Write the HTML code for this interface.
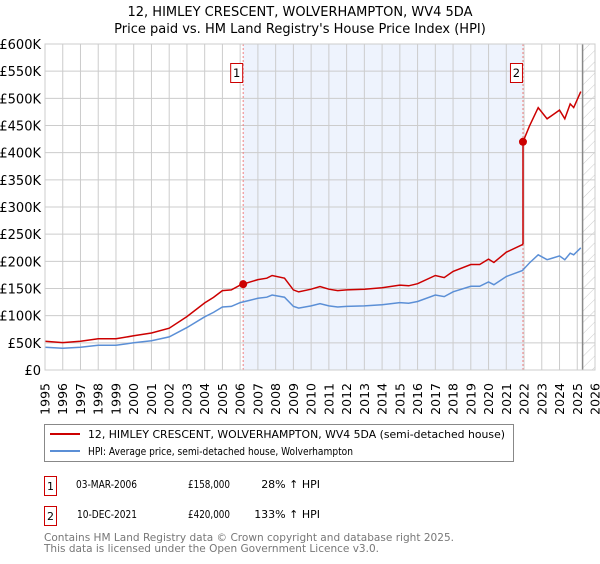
<!DOCTYPE html>
<html><head><meta charset="utf-8"><style>
body{margin:0;background:#fff;font-family:"DejaVu Sans","Liberation Sans",sans-serif;}
svg text{font-family:"DejaVu Sans","Liberation Sans",sans-serif;}
</style></head><body>
<svg id="chart" width="600" height="560" xmlns="http://www.w3.org/2000/svg">
<defs><pattern id="hatch" width="8" height="8" patternUnits="userSpaceOnUse" patternTransform="rotate(45)"><line x1="0" y1="0" x2="0" y2="8" stroke="#ccc" stroke-width="1"/></pattern></defs>
<text x="300" y="16" text-anchor="middle" font-size="13">12, HIMLEY CRESCENT, WOLVERHAMPTON, WV4 5DA</text>
<text x="300" y="33" text-anchor="middle" font-size="13">Price paid vs. HM Land Registry's House Price Index (HPI)</text>
<g id="plot"></g>
<g>
<rect x="44.5" y="424.5" width="469" height="37" fill="#fff" stroke="#888"/>
<line x1="50" y1="434" x2="80" y2="434" stroke="#cc0000" stroke-width="2"/>
<text x="88" y="438" font-size="11" textLength="417" lengthAdjust="spacingAndGlyphs">12, HIMLEY CRESCENT, WOLVERHAMPTON, WV4 5DA (semi-detached house)</text>
<line x1="50" y1="451" x2="80" y2="451" stroke="#5b8fd6" stroke-width="2"/>
<text x="88" y="455" font-size="11" textLength="265" lengthAdjust="spacingAndGlyphs">HPI: Average price, semi-detached house, Wolverhampton</text>
</g>
<g font-size="11">
<rect x="44.5" y="476.5" width="12" height="19" fill="#fff" stroke="#cc0000"/>
<text x="50.5" y="490" text-anchor="middle">1</text>
<text x="76" y="488" textLength="61" lengthAdjust="spacingAndGlyphs">03-MAR-2006</text>
<text x="188" y="488" textLength="42" lengthAdjust="spacingAndGlyphs">£158,000</text>
<text x="320" y="488" text-anchor="end">28% ↑ HPI</text>
<rect x="44.5" y="506.5" width="12" height="19" fill="#fff" stroke="#cc0000"/>
<text x="50.5" y="520" text-anchor="middle">2</text>
<text x="77" y="518" textLength="60" lengthAdjust="spacingAndGlyphs">10-DEC-2021</text>
<text x="188" y="518" textLength="42" lengthAdjust="spacingAndGlyphs">£420,000</text>
<text x="320" y="518" text-anchor="end">133% ↑ HPI</text>
</g>
<text x="44" y="541" font-size="11" fill="#777" textLength="410" lengthAdjust="spacingAndGlyphs">Contains HM Land Registry data © Crown copyright and database right 2025.</text>
<text x="44" y="552" font-size="11" fill="#777" textLength="335" lengthAdjust="spacingAndGlyphs">This data is licensed under the Open Government Licence v3.0.</text>
</svg>
<script>
const hpiYears=[1995,1996,1997,1998,1999,2000,2001,2002,2003,2004,2004.5,2005,2005.5,2006,2006.5,2007,2007.5,2007.8,2008.5,2009,2009.3,2010,2010.5,2011,2011.5,2012,2013,2014,2015,2015.5,2016,2017,2017.5,2018,2019,2019.5,2020,2020.3,2021,2021.9,2022.3,2022.8,2023.3,2023.6,2024,2024.3,2024.6,2024.8,2025.2];
const hpiValues=[42,40,42,45.5,45.5,50,54,61,78,98,106,116,117,124,128,132,134,138,134,117,114,118,122,118,116,117,118,120,124,123,126,138,135,144,154,154,162,157,172,183,197,212,203,206,210,203,215,212,225];
const saleYears=[2006.17,2021.94];
const salePrices=[158,420];
const saleLabels=["1","2"];
const yTicks=[0,50,100,150,200,250,300,350,400,450,500,550,600];
const xTicks=[1995,1996,1997,1998,1999,2000,2001,2002,2003,2004,2005,2006,2007,2008,2009,2010,2011,2012,2013,2014,2015,2016,2017,2018,2019,2020,2021,2022,2023,2024,2025,2026];
const dataEnd=2025.3;
const X0=45,X1=595,Y0=370,Y1=44;
const xs=y=>X0+(y-1995)/(2026-1995)*(X1-X0);
const ys=v=>Y0-v/600*(Y0-Y1);
const NS="http://www.w3.org/2000/svg";
const g=document.getElementById('plot');
function mk(t,a){const e=document.createElementNS(NS,t);for(const k in a)e.setAttribute(k,a[k]);g.appendChild(e);return e;}
function hpiAt(y){for(let i=0;i<hpiYears.length-1;i++){if(y<=hpiYears[i+1]){const f=(y-hpiYears[i])/(hpiYears[i+1]-hpiYears[i]);return hpiValues[i]+f*(hpiValues[i+1]-hpiValues[i]);}}return hpiValues[hpiValues.length-1];}
let e;
e=mk('rect',{x:xs(saleYears[0]),y:Y1,width:xs(saleYears[1])-xs(saleYears[0]),height:Y0-Y1,fill:'#eef3fd'});


e=mk('rect',{x:xs(dataEnd),y:Y1,width:X1-xs(dataEnd),height:Y0-Y1,fill:'url(#hatch)'});


yTicks.forEach(v=>{
 e=mk('line',{x1:X0,x2:X1,y1:ys(v),y2:ys(v),stroke:'#ccc','stroke-width':1});
 
 
 e=mk('text',{x:41,y:ys(v)+5,'text-anchor':'end','font-size':13});
 e.textContent=v===0?'£0':'£'+v+'K';
 
 
});
xTicks.forEach(y=>{
 e=mk('line',{x1:xs(y),x2:xs(y),y1:Y1,y2:Y0,stroke:'#ccc','stroke-width':1});
 
 
 const tx=xs(y)+4.5,ty=383;
 e=mk('text',{x:tx,y:ty,'text-anchor':'end','font-size':12.5,transform:`rotate(-90 ${tx} ${ty})`});
 e.textContent=y;
 
 
});
e=mk('line',{x1:xs(dataEnd),x2:xs(dataEnd),y1:Y1,y2:Y0,stroke:'#888','stroke-width':1.5});


saleYears.forEach((y,i)=>{
 e=mk('line',{x1:xs(y),x2:xs(y),y1:Y1,y2:Y0,stroke:'#f08080','stroke-width':1,'stroke-dasharray':'2,2'});
 
 
});
let d=hpiYears.map((y,i)=>(i?'L':'M')+xs(y).toFixed(1)+','+ys(hpiValues[i]).toFixed(1)).join('');
e=mk('path',{d:d,fill:'none',stroke:'#5b8fd6','stroke-width':1.5});


const ratios=saleYears.map((y,i)=>salePrices[i]/hpiAt(y));
let pts=[];
hpiYears.forEach((y,i)=>{
 if(y>saleYears[0]&&pts.length&&pts[pts.length-1][0]<saleYears[0])pts.push([saleYears[0],salePrices[0]]);
 if(y>saleYears[1]&&pts[pts.length-1][0]<saleYears[1]){pts.push([saleYears[1],hpiAt(saleYears[1])*ratios[0]]);pts.push([saleYears[1],salePrices[1]]);}
 const r=y>=saleYears[1]?ratios[1]:ratios[0];
 pts.push([y,hpiValues[i]*r]);
});
d=pts.map((p,i)=>(i?'L':'M')+xs(p[0]).toFixed(1)+','+ys(p[1]).toFixed(1)).join('');
e=mk('path',{d:d,fill:'none',stroke:'#cc0000','stroke-width':1.5});


saleYears.forEach((y,i)=>{
 e=mk('circle',{cx:xs(y),cy:ys(salePrices[i]),r:4,fill:'#cc0000'});
 
 
 e=mk('rect',{x:xs(y)-12.5,y:63.5,width:12,height:19,fill:'#fff',stroke:'#cc0000'});
 
 
 e=mk('text',{x:xs(y)-6.5,y:77,'text-anchor':'middle','font-size':11.5});
 e.textContent=saleLabels[i];
 
 
});
e=mk('rect',{x:X0,y:Y1,width:X1-X0,height:Y0-Y1,fill:'none',stroke:'#ccc'});


</script>
</body></html>
